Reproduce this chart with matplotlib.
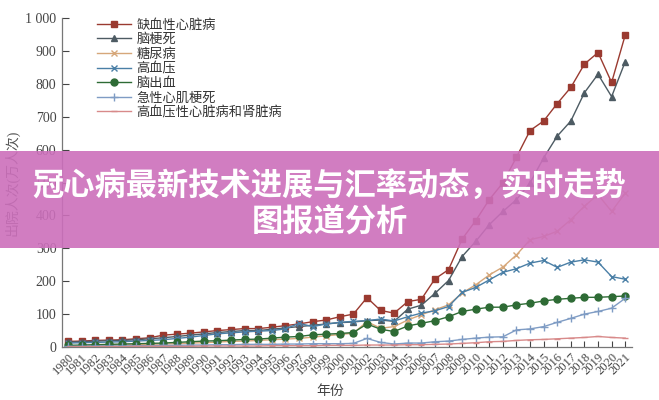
import numpy as np
import matplotlib
matplotlib.use('Agg')
import matplotlib.pyplot as plt
from matplotlib.patches import Rectangle

plt.rcParams['font.family'] = ['Liberation Serif', 'Noto Sans CJK SC', 'DejaVu Sans']

years = list(range(1980, 2022))

# 出院人次(万人次)
ischemic = [17, 18, 20, 21, 22, 25, 28, 36, 39, 42, 46, 50, 53, 56, 56, 60, 65, 70, 77, 82,
            92, 100, 150, 111, 103, 138, 145, 207, 235, 328, 384, 448, 499, 577, 658, 687,
            740, 789, 860, 895, 804, 948]
infarction = [15, 16, 18, 19, 20, 22, 25, 28, 32, 36, 40, 44, 47, 50, 50, 54, 58, 62, 66, 70,
              74, 76, 80, 82, 78, 115, 127, 163, 202, 275, 321, 372, 412, 448, 499, 575,
              641, 687, 773, 829, 761, 867]
diabetes = [2, 3, 4, 5, 6, 7, 8, 9, 10, 12, 13, 15, 17, 18, 20, 22, 24, 26, 30, 34,
            38, 42, 77, 57, 62, 82, 98, 113, 128, 164, 189, 219, 243, 280, 326, 336,
            352, 387, 428, 463, 412, 468]
hypertension = [12, 13, 14, 15, 16, 18, 20, 22, 26, 30, 35, 40, 43, 46, 48, 50, 55, 72, 62, 70,
                75, 78, 80, 85, 79, 92, 103, 110, 123, 166, 181, 204, 227, 238, 255, 263,
                242, 258, 265, 258, 214, 206]
hemorrhage = [5, 6, 7, 8, 9, 10, 11, 12, 14, 16, 18, 19, 21, 23, 24, 27, 30, 32, 37, 39,
              41, 44, 70, 54, 47, 64, 72, 80, 92, 108, 115, 121, 121, 128, 133, 140,
              145, 148, 151, 151, 153, 155]
ami = [2, 2, 3, 3, 3, 4, 4, 5, 5, 6, 6, 7, 7, 8, 8, 8, 9, 9, 10, 10,
       10, 11, 26, 14, 9, 12, 12, 16, 18, 23, 27, 30, 31, 52, 55, 62,
       75, 87, 100, 108, 118, 148]
heart_kidney = [1, 1, 1, 1, 1, 2, 2, 2, 2, 2, 3, 3, 3, 3, 3, 4, 4, 4, 4, 5,
                5, 5, 6, 6, 6, 7, 7, 8, 9, 11, 13, 16, 17, 20, 22, 23,
                25, 27, 29, 32, 29, 27]

names = ['缺血性心脏病', '脑梗死', '糖尿病', '高血压', '脑出血', '急性心肌梗死', '高血压性心脏病和肾脏病']
series = [ischemic, infarction, diabetes, hypertension, hemorrhage, ami, heart_kidney]
colors = ['#9a3a30', '#4d5b63', '#d6a77a', '#4a7fa6', '#2e6b35', '#7f9cc4', '#d88a8a']
markers = ['s', '^', 'x', 'x', 'o', '+', '_']
msizes = [5, 5, 5, 5, 5, 6, 4]

fig = plt.figure(figsize=(6.59, 4.0), dpi=100)
ax = fig.add_axes([62/659, 1-347/400, (632-62)/659, (347-18)/400])

for i in range(len(series)):
    ax.plot(years, series[i], color=colors[i], marker=markers[i], markersize=msizes[i],
            linewidth=1.0, markeredgewidth=1.0, label=names[i])

ax.set_xlim(1979.56, 2021.5)
ax.set_ylim(0, 1000)
ax.set_yticks(range(0, 1001, 100))
ax.set_yticklabels(['0', '100', '200', '300', '400', '500', '600', '700', '800', '900', '1 000'])
ax.set_xticks(years)
ax.set_xticklabels([str(y) for y in years], rotation=45, ha='right', rotation_mode='anchor')
ax.tick_params(axis='y', direction='in', length=5, labelsize=10, colors='#444444', pad=4)
ax.tick_params(axis='x', direction='in', length=4, labelsize=9, colors='#444444', pad=3)
for s in ['top', 'right']:
    ax.spines[s].set_visible(False)
for s in ['left', 'bottom']:
    ax.spines[s].set_color('#777777')
    ax.spines[s].set_linewidth(0.9)

ax.set_ylabel('出院人次(万人次)', fontsize=10, color='#555555')
ax.yaxis.set_label_coords((20-62)/570, 0.5)
ax.set_xlabel('年份', fontsize=10, color='#444444')
ax.xaxis.set_label_coords((330-62)/570, -(385-347)/329)

leg = ax.legend(loc='upper left', bbox_to_anchor=(0.04, 1.035), frameon=False,
                handlelength=2.6, labelspacing=0.12, handletextpad=0.4,
                prop={'family': ['Noto Sans CJK SC'], 'size': 9.5})
for t in leg.get_texts():
    t.set_color('#333333')

# banner overlay
fig.patches.append(Rectangle((0, 1-248/400), 1, (248-151)/400, transform=fig.transFigure,
                             facecolor='#cc6fbb', alpha=0.9, edgecolor='none', zorder=10))
fig.text(0.5, 1-187/400, '冠心病最新技术进展与汇率动态，实时走势', ha='center', va='center',
         fontsize=22.5, fontweight='bold', color='white', family=['Noto Sans CJK SC'], zorder=11)
fig.text(0.5, 1-222/400, '图报道分析', ha='center', va='center',
         fontsize=22.5, fontweight='bold', color='white', family=['Noto Sans CJK SC'], zorder=11)

fig.savefig('out.png', dpi=100)
